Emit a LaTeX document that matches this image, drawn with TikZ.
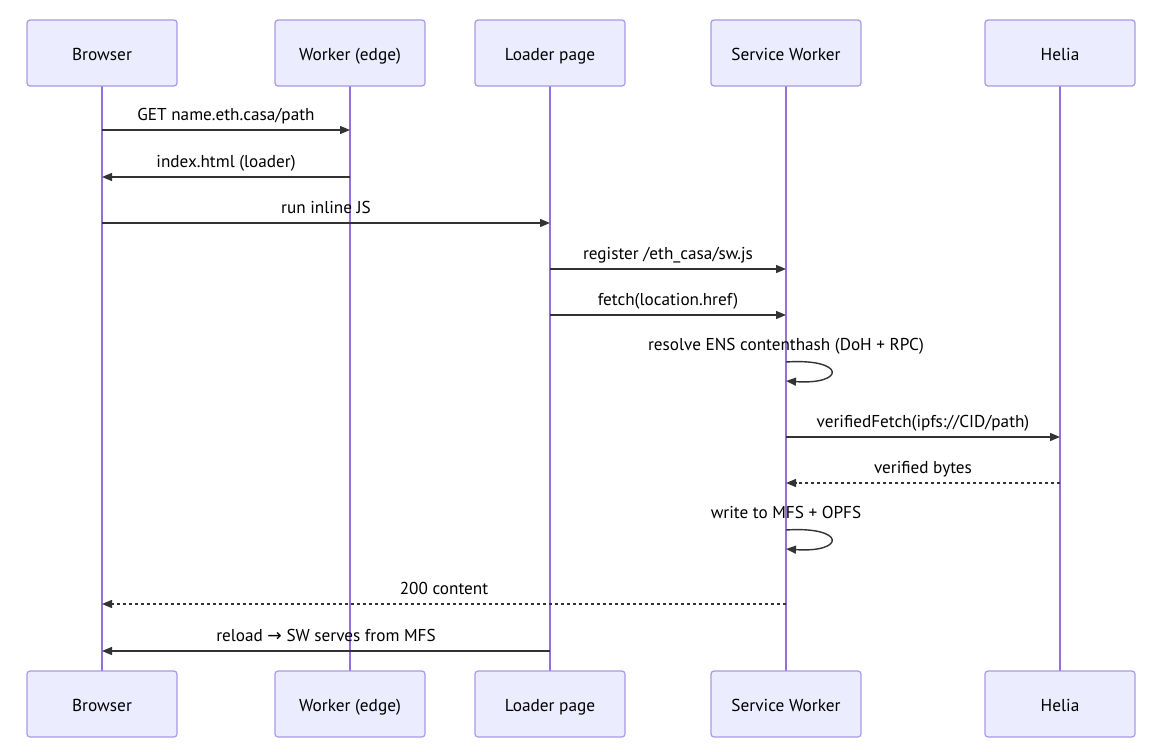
\documentclass[tikz,border=0pt]{standalone}
\usepackage{fontspec}
\setmainfont{PT Sans}
\newfontfamily\symfont{DejaVu Sans}
\usetikzlibrary{arrows.meta,calc}
\definecolor{actfill}{HTML}{ECECFF}
\definecolor{actborder}{HTML}{AB98E6}
\definecolor{lifeline}{HTML}{9370DB}
\definecolor{msgcol}{HTML}{333333}
\tikzset{
  actor/.style={draw=actborder, fill=actfill, line width=1.2pt, rounded corners=3pt,
    minimum width=150pt, minimum height=66pt, inner sep=0pt, text height=17pt, text depth=3pt,
    font=\fontsize{17.3}{20}\selectfont, text=black},
  life/.style={draw=lifeline, line width=1.6pt},
  msg/.style={draw=msgcol, line width=1.4pt, -{Triangle[length=10pt,width=8pt]}},
  reply/.style={msg, dash pattern=on 3pt off 3pt},
  lbl/.style={anchor=base, font=\fontsize{17.2}{20}\selectfont, text=black, inner sep=0pt},
}
\begin{document}
\begin{tikzpicture}[x=1pt,y=-1pt]
\useasboundingbox (0,0) rectangle (1162,752);
% actors
\foreach \n/\x/\t in {b/102/Browser, w/350/Worker (edge), l/550/Loader page, s/786/Service Worker, h/1060/Helia}{
  \draw[life] (\x,86) -- (\x,671);
  \node[actor] (\n) at (\x,53) {\t};
  \node[actor] (\n2) at (\x,704) {\t};
}
% messages
\coordinate (y1) at (0,130);
\coordinate (y2) at (0,177);
\coordinate (y3) at (0,223);
\coordinate (y4) at (0,269);
\coordinate (y5) at (0,315);
\coordinate (y7) at (0,437);
\coordinate (y8) at (0,483);
\coordinate (y10) at (0,604);
\coordinate (y11) at (0,651);
\draw[msg] (b.south |- y1) -- node[lbl, yshift=10pt] {GET name.eth.casa/path} (w.south |- y1);
\draw[msg] (w.south |- y2) -- node[lbl, yshift=10pt] {index.html (loader)} (b.south |- y2);
\draw[msg] (b.south |- y3) -- node[lbl, yshift=10pt] {run inline JS} (l.south |- y3);
\draw[msg] (l.south |- y4) -- node[lbl, yshift=10pt] {register /eth\_casa/sw.js} (s.south |- y4);
\draw[msg] (l.south |- y5) -- node[lbl, yshift=10pt] {fetch(location.href)} (s.south |- y5);
% self loop 1
\coordinate (sa) at (786,362);
\coordinate (sb) at (786,381);
\node[lbl] (t6) at (786,350) {resolve ENS contenthash (DoH + RPC)};
\draw[msg] (sa) .. controls (846,358) and (846,385) .. (sb);
\draw[msg] (s.south |- y7) -- node[lbl, yshift=10pt] {verifiedFetch(ipfs://CID/path)} (h.south |- y7);
\draw[reply] (h.south |- y8) -- node[lbl, yshift=10pt] {verified bytes} (s.south |- y8);
% self loop 2
\coordinate (sc) at (786,530);
\coordinate (sd) at (786,549);
\node[lbl] (t9) at (786,518) {write to MFS + OPFS};
\draw[msg] (sc) .. controls (846,526) and (846,553) .. (sd);
\draw[reply] (s.south |- y10) -- node[lbl, yshift=10pt] {200 content} (b.south |- y10);
\draw[msg] (l.south |- y11) -- node[lbl, yshift=10pt] {reload {\symfont →} SW serves from MFS} (b.south |- y11);
\end{tikzpicture}
\end{document}
